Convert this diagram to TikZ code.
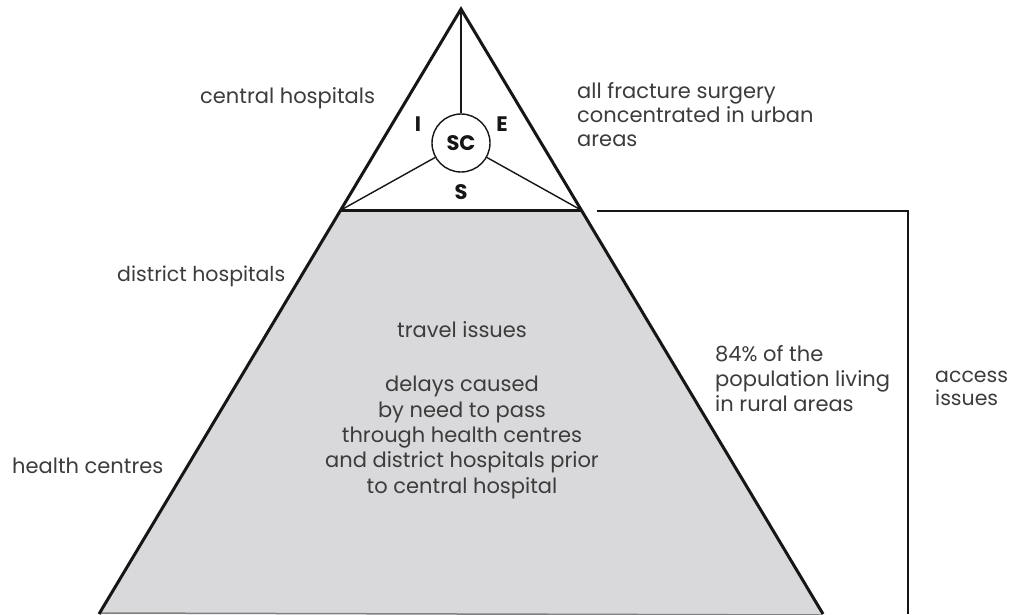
\documentclass[tikz,border=0pt]{standalone}
\usepackage{fontspec}
\setmainfont{Poppins}
\definecolor{txt}{HTML}{3C3C3C}
\definecolor{ln}{HTML}{161616}
\definecolor{fillg}{HTML}{D9D8DA}
\begin{document}
\begin{tikzpicture}[x=1pt,y=-1pt,
  lab/.style={text=txt,font=\fontsize{21}{25}\selectfont,inner sep=0pt,align=left},
  mid/.style={text=txt,font=\fontsize{21}{25.3}\selectfont,inner sep=0pt,align=center},
  letter/.style={text=ln,font=\fontsize{21}{24}\bfseries\selectfont,inner sep=0pt},
  thick line/.style={draw=ln,line width=3pt,line join=miter},
  thin line/.style={draw=ln,line width=1.4pt}]
\useasboundingbox (0,0) rectangle (1012,614);
\fill[white] (0,0) rectangle (1012,614);
\coordinate (apex) at (461,9);
\coordinate (L) at (341,210);
\coordinate (R) at (581,210);
\coordinate (BL) at (99,614);
\coordinate (BR) at (823,614);
\fill[fillg] (L) -- (R) -- (BR) -- (BL) -- cycle;
\draw[draw=gray,line width=1.5pt] (BL) ++(0,-1) -- ([yshift=-1pt]BR);
\node[circle,draw=ln,line width=1.4pt,minimum size=58pt,inner sep=0pt,letter] (sc) at (461,143) {SC};
\draw[thin line] (sc) -- (apex);
\draw[thin line] (sc) -- (L);
\draw[thin line] (sc) -- (R);
\draw[thick line] (L) -- (R);
\draw[thick line] (BL) -- (apex) -- (BR);
\node[letter] (i) at (418,124) {I};
\node[letter] (e) at (502,124) {E};
\node[letter] (s) at (461,192) {S};
% bracket
\coordinate (bt) at (597,211);
\coordinate (bc) at (908,211);
\coordinate (bb) at (908,614);
\draw[draw=ln,line width=1.2pt] (bt) -- (bc) -- (bb);
% labels (base anchor = baseline of the last line)
\node[lab,anchor=base west] (central) at (200,103) {central hospitals};
\node[lab,font=\fontsize{20.5}{25}\selectfont,anchor=base west] (district) at (117,281) {district hospitals};
\node[lab,anchor=base west] (health) at (12,473) {health centres};
\node[lab,font=\fontsize{21}{24}\selectfont,anchor=base west] (frac) at (577,146) {all fracture surgery\\concentrated in urban\\areas};
\node[lab,anchor=base west] (pop) at (715,411) {84\% of the\\population living\\in rural areas};
\node[lab,font=\fontsize{20.5}{23}\selectfont,anchor=base west] (access) at (935,405) {access\\issues};
\node[mid,anchor=base] (travel) at (462,337) {travel issues};
\node[mid,anchor=base] (delays) at (462,493) {delays caused\\by need to pass\\through health centres\\and district hospitals prior\\to central hospital};
\end{tikzpicture}
\end{document}
